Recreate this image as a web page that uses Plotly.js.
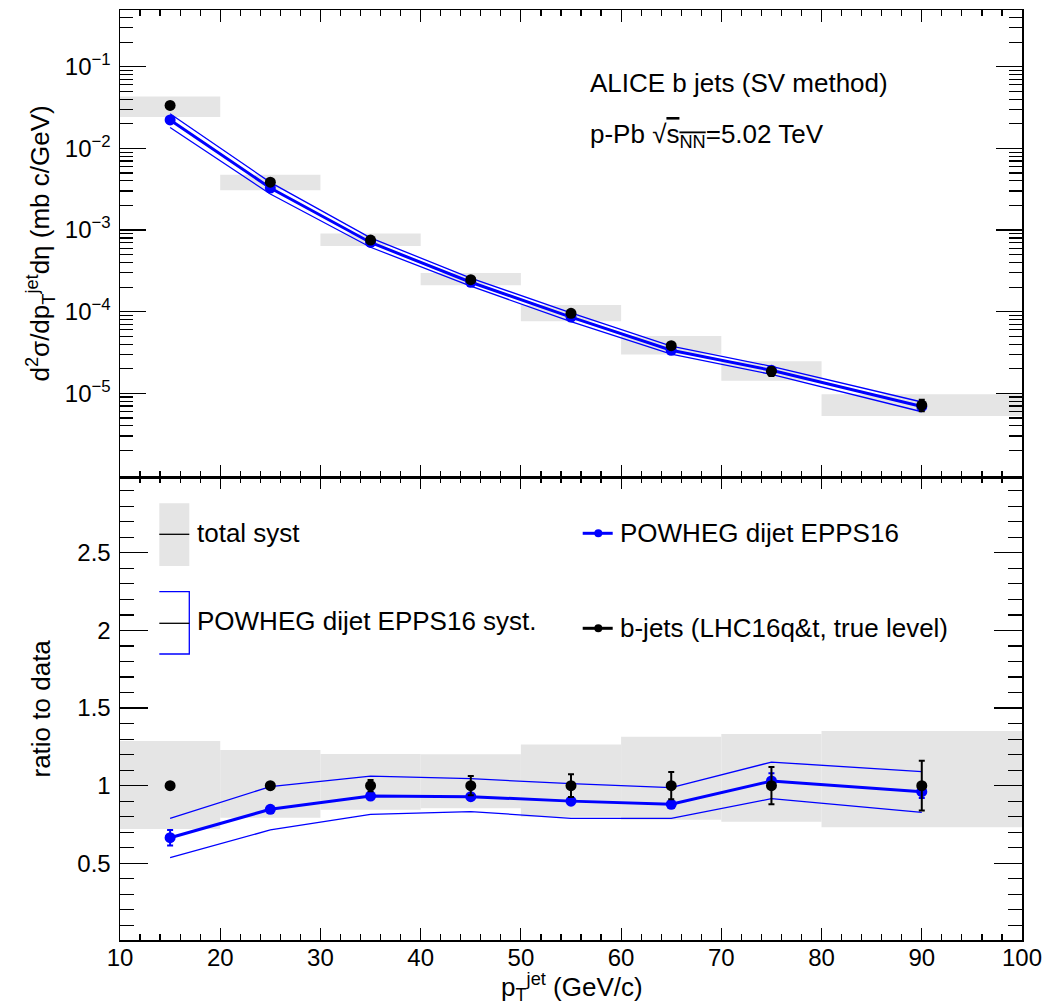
<!DOCTYPE html>
<html><head><meta charset="utf-8">
<script src="https://cdn.plot.ly/plotly-3.0.1.min.js"></script>
<style>body{margin:0;background:#fff}</style>
</head><body><div id="chart" style="width:1045px;height:1005px"></div>
<script>
// ---- data ----
const binLow    = [10, 20, 30, 40, 50, 60, 70, 80];
const binHigh   = [20, 30, 40, 50, 60, 70, 80, 100];
const ptCenter  = [15, 25, 35, 45, 55, 65, 75, 90];
// measured b-jet cross section (mb c/GeV)
const dataXsec  = [0.0336, 0.00386, 7.55e-4, 2.47e-4, 9.55e-5, 3.83e-5, 1.86e-5, 7.19e-6];
const dataStatRel = [0.01, 0.012, 0.036, 0.062, 0.073, 0.088, 0.12, 0.16];
// total systematic, as factor relative to data (upper / lower edge)
const dataSystUp   = [1.288, 1.230, 1.204, 1.202, 1.266, 1.315, 1.333, 1.352];
const dataSystDown = [0.721, 0.794, 0.845, 0.854, 0.800, 0.780, 0.768, 0.732];
// POWHEG dijet EPPS16 (mb c/GeV)
const powhegXsec   = [0.02234, 0.003273, 7.044e-4, 2.295e-4, 8.60e-5, 3.370e-5, 1.916e-5, 6.91e-6];
const powhegStatRel = [0.075, 0.012, 0.012, 0.015, 0.012, 0.012, 0.049, 0.042];
const powhegSystHi = [0.02654, 0.003837, 8.018e-4, 2.581e-4, 9.674e-5, 3.780e-5, 2.143e-5, 7.837e-6];
const powhegSystLo = [0.01801, 0.002760, 6.153e-4, 2.058e-4, 7.545e-5, 3.026e-5, 1.704e-5, 5.953e-6];
// tick labels
const logTickVals = [1e-5, 1e-4, 1e-3, 1e-2, 1e-1];
const logTickText = ['10<sup>\u22125</sup>','10<sup>\u22124</sup>','10<sup>\u22123</sup>','10<sup>\u22122</sup>','10<sup>\u22121</sup>'];
const ratioTickVals = [0.5, 1, 1.5, 2, 2.5];
const ratioTickText = ['0.5', '1', '1.5', '2', '2.5'];

const FONT = '"Liberation Sans", Arial, Helvetica, sans-serif';
const GREY = '#e5e5e5';
const BLUE = '#0000ff';

const traces = [];
// grey syst boxes
for (let i = 0; i < binLow.length; i++) {
  const lo = dataXsec[i] * dataSystDown[i], hi = dataXsec[i] * dataSystUp[i];
  traces.push({x:[binLow[i],binHigh[i],binHigh[i],binLow[i],binLow[i]], y:[lo,lo,hi,hi,lo],
    xaxis:'x', yaxis:'y', mode:'lines', fill:'toself', fillcolor:GREY, line:{width:0, color:GREY},
    hoverinfo:'skip', showlegend:false});
  traces.push({x:[binLow[i],binHigh[i],binHigh[i],binLow[i],binLow[i]],
    y:[dataSystDown[i],dataSystDown[i],dataSystUp[i],dataSystUp[i],dataSystDown[i]],
    xaxis:'x2', yaxis:'y2', mode:'lines', fill:'toself', fillcolor:GREY, line:{width:0, color:GREY},
    hoverinfo:'skip', showlegend:false});
}
// ratios
const rPow = powhegXsec.map((v,i)=>v/dataXsec[i]);
const rHi = powhegSystHi.map((v,i)=>v/dataXsec[i]);
const rLo = powhegSystLo.map((v,i)=>v/dataXsec[i]);
const rData = dataXsec.map(()=>1);

// top panel POWHEG
traces.push({x:ptCenter, y:powhegSystHi, xaxis:'x', yaxis:'y', mode:'lines', line:{color:BLUE, width:1.3}, showlegend:false});
traces.push({x:ptCenter, y:powhegSystLo, xaxis:'x', yaxis:'y', mode:'lines', line:{color:BLUE, width:1.3}, showlegend:false});
traces.push({x:ptCenter, y:powhegXsec, xaxis:'x', yaxis:'y', mode:'lines+markers',
  line:{color:BLUE, width:3}, marker:{color:BLUE, size:11},
  error_y:{type:'data', array:powhegXsec.map((v,i)=>v*powhegStatRel[i]), color:BLUE, thickness:2, width:3},
  showlegend:false});
traces.push({x:ptCenter, y:dataXsec, xaxis:'x', yaxis:'y', mode:'markers',
  marker:{color:'black', size:11},
  error_y:{type:'data', array:dataXsec.map((v,i)=>v*dataStatRel[i]), color:'black', thickness:2, width:3},
  showlegend:false});
// bottom panel
traces.push({x:ptCenter, y:rHi, xaxis:'x2', yaxis:'y2', mode:'lines', line:{color:BLUE, width:1.3}, showlegend:false});
traces.push({x:ptCenter, y:rLo, xaxis:'x2', yaxis:'y2', mode:'lines', line:{color:BLUE, width:1.3}, showlegend:false});
traces.push({x:ptCenter, y:rPow, xaxis:'x2', yaxis:'y2', mode:'lines+markers',
  line:{color:BLUE, width:3}, marker:{color:BLUE, size:11},
  error_y:{type:'data', array:rPow.map((v,i)=>v*powhegStatRel[i]), color:BLUE, thickness:2, width:3},
  showlegend:false});
traces.push({x:ptCenter, y:rData, xaxis:'x2', yaxis:'y2', mode:'markers',
  marker:{color:'black', size:11},
  error_y:{type:'data', array:dataStatRel, color:'black', thickness:2, width:3},
  showlegend:false});

// minor tick values for the log axis
const logMinor = [];
for (let e = -7; e <= 0; e++) for (let m = 2; m <= 9; m++) logMinor.push(m * Math.pow(10, e));

const tickFont = {family:FONT, size:24, color:'black'};
const commonX = {range:[10,100], showgrid:false, zeroline:false, showline:true, linecolor:'black', linewidth:1.5,
  mirror:'allticks', ticks:'inside', ticklen:12, tickwidth:1.2, tickcolor:'black', dtick:10, tick0:0,
  minor:{dtick:2, ticklen:6, tickwidth:1.2, tickcolor:'black', ticks:'inside', showgrid:false},
  tickfont:tickFont};

// paper coordinate helpers (layout positions)
const PX = p => (p - 120) / 902;
const PY = p => (940 - p) / 930;

const layout = {
  width:1045, height:1005, paper_bgcolor:'white', plot_bgcolor:'white',
  margin:{l:120, r:23, t:10, b:65},
  font:{family:FONT, color:'black'},
  showlegend:false,
  xaxis: Object.assign({}, commonX, {anchor:'y', showticklabels:false}),
  xaxis2: Object.assign({}, commonX, {anchor:'y2', matches:'x', showticklabels:true, ticklabelstandoff:-4}),
  yaxis: {domain:[0.4978, 1], type:'log', range:[-6.025, -0.305], anchor:'x',
    showgrid:false, zeroline:false, showline:true, linecolor:'black', linewidth:1.5,
    mirror:'allticks', ticks:'inside', ticklen:26, tickwidth:1.2, tickcolor:'black',
    tickmode:'array', tickvals:logTickVals, ticktext:logTickText, tickfont:tickFont, ticklabelstandoff:3,
    minor:{tickmode:'array', tickvals:logMinor, ticklen:13, tickwidth:1.2, tickcolor:'black', ticks:'inside', showgrid:false}},
  yaxis2: {domain:[0, 0.4978], range:[0.006, 2.988], anchor:'x2',
    showgrid:false, zeroline:false, showline:true, linecolor:'black', linewidth:1.5,
    mirror:'allticks', ticks:'inside', ticklen:28, tickwidth:1.2, tickcolor:'black',
    tickmode:'array', tickvals:ratioTickVals, ticktext:ratioTickText, tickfont:tickFont, ticklabelstandoff:3,
    minor:{dtick:0.1, tick0:0, ticklen:14, tickwidth:1.2, tickcolor:'black', ticks:'inside', showgrid:false}},
  shapes: [
    // legend: total syst
    {type:'rect', xref:'paper', yref:'paper', x0:PX(159.3), x1:PX(189.3), y0:PY(566), y1:PY(503.3), fillcolor:GREY, line:{width:0}},
    {type:'line', xref:'paper', yref:'paper', x0:PX(159.3), x1:PX(189.3), y0:PY(534.3), y1:PY(534.3), line:{color:'black', width:1.3}},
    // legend: POWHEG syst bracket
    {type:'path', xref:'paper', yref:'paper', path:`M ${PX(159.3)},${PY(591.7)} L ${PX(189.3)},${PY(591.7)} L ${PX(189.3)},${PY(654)} L ${PX(159.3)},${PY(654)}`, line:{color:BLUE, width:1.3}},
    {type:'line', xref:'paper', yref:'paper', x0:PX(159.3), x1:PX(189.3), y0:PY(623.3), y1:PY(623.3), line:{color:'black', width:1.3}},
    // legend: POWHEG central
    {type:'line', xref:'paper', yref:'paper', x0:PX(582.7), x1:PX(612.7), y0:PY(533.3), y1:PY(533.3), line:{color:BLUE, width:3}},
    {type:'circle', xref:'paper', yref:'paper', x0:PX(594.3), x1:PX(602.3), y0:PY(537.3), y1:PY(529.3), fillcolor:BLUE, line:{color:BLUE, width:0}},
    // legend: data
    {type:'line', xref:'paper', yref:'paper', x0:PX(582.7), x1:PX(612.7), y0:PY(628.3), y1:PY(628.3), line:{color:'black', width:3}},
    {type:'circle', xref:'paper', yref:'paper', x0:PX(594.3), x1:PX(602.3), y0:PY(632.3), y1:PY(624.3), fillcolor:'black', line:{color:'black', width:0}}
  ],
  annotations: [
    {xref:'paper', yref:'paper', x:PX(588), y:PY(83), xanchor:'left', yanchor:'middle', showarrow:false,
      text:'ALICE b jets (SV method)', font:{family:FONT, size:26, color:'black'}},
    {xref:'paper', yref:'paper', x:PX(588), y:PY(135), xanchor:'left', yanchor:'middle', showarrow:false,
      text:'p-Pb \u221A<span style="text-decoration:overline">s<sub>NN</sub></span>=5.02 TeV', font:{family:FONT, size:26, color:'black'}},
    {xref:'paper', yref:'paper', x:PX(195), y:PY(533), xanchor:'left', yanchor:'middle', showarrow:false,
      text:'total syst', font:{family:FONT, size:26, color:'black'}},
    {xref:'paper', yref:'paper', x:PX(195), y:PY(621), xanchor:'left', yanchor:'middle', showarrow:false,
      text:'POWHEG dijet EPPS16 syst.', font:{family:FONT, size:26, color:'black'}},
    {xref:'paper', yref:'paper', x:PX(618), y:PY(533), xanchor:'left', yanchor:'middle', showarrow:false,
      text:'POWHEG dijet EPPS16', font:{family:FONT, size:26, color:'black'}},
    {xref:'paper', yref:'paper', x:PX(618), y:PY(628), xanchor:'left', yanchor:'middle', showarrow:false,
      text:'b-jets (LHC16q&t, true level)', font:{family:FONT, size:26, color:'black'}},
    // axis titles
    {xref:'paper', yref:'paper', x:PX(40), y:PY(243.5), xanchor:'center', yanchor:'middle', textangle:-90, showarrow:false,
      text:'d<sup>2</sup>\u03C3/dp<sub>T</sub><sup>jet</sup>d\u03B7 (mb c/GeV)', font:{family:FONT, size:26, color:'black'}},
    {xref:'paper', yref:'paper', x:PX(40), y:PY(708.5), xanchor:'center', yanchor:'middle', textangle:-90, showarrow:false,
      text:'ratio to data', font:{family:FONT, size:26, color:'black'}},
    {xref:'paper', yref:'paper', x:PX(572), y:PY(987), xanchor:'center', yanchor:'middle', showarrow:false,
      text:'p<sub>T</sub><sup>jet</sup> (GeV/c)', font:{family:FONT, size:26, color:'black'}}
  ]
};

Plotly.newPlot('chart', traces, layout, {staticPlot:true, displayModeBar:false});
</script></body></html>
